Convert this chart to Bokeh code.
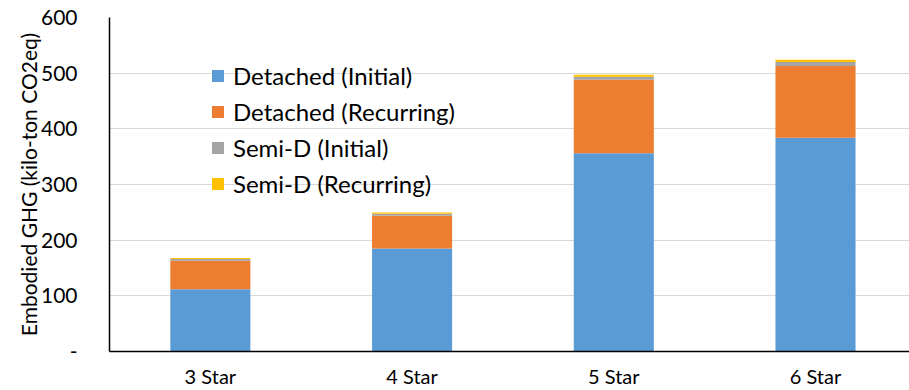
from bokeh.plotting import figure
from bokeh.models import Range1d, FixedTicker, ColumnDataSource, Legend, LegendItem
from bokeh.embed import file_html
from bokeh.resources import INLINE

# Embodied GHG by star rating (kilo-ton CO2eq)
categories = ["3 Star", "4 Star", "5 Star", "6 Star"]
detached_initial = [112, 185, 356, 384]
detached_recurring = [51, 59, 132, 129]
semid_initial = [3, 3.6, 5.4, 7]
semid_recurring = [2, 2.3, 3.6, 4.3]

series_names = ["Detached (Initial)", "Detached (Recurring)", "Semi-D (Initial)", "Semi-D (Recurring)"]
series_keys = ["det_init", "det_rec", "semi_init", "semi_rec"]
colors = ["#5B9BD5", "#ED7D31", "#A5A5A5", "#FFC000"]
y_ticks = [0, 100, 200, 300, 400, 500, 600]

FONT = "Lato"

source = ColumnDataSource(dict(
    x=[i + 0.5 for i in range(len(categories))],
    det_init=detached_initial,
    det_rec=detached_recurring,
    semi_init=semid_initial,
    semi_rec=semid_recurring,
))

p = figure(
    width=909, height=390,
    x_range=Range1d(0, 3.966), y_range=Range1d(0, 600),
    output_backend="svg", toolbar_location=None,
    min_border_left=109, min_border_right=0,
    min_border_top=17, min_border_bottom=39,
)
p.outline_line_color = None
p.background_fill_color = "white"
p.border_fill_color = "white"

renderers = p.vbar_stack(series_keys, x="x", width=0.397, color=colors,
                         line_color=None, source=source)

# axes
p.xaxis.ticker = FixedTicker(ticks=[i + 0.5 for i in range(len(categories))])
p.xaxis.major_label_overrides = {i + 0.5: c for i, c in enumerate(categories)}
p.xaxis.major_label_text_font = FONT
p.xaxis.major_label_text_font_size = "20px"
p.xaxis.major_label_text_color = "#000000"
p.xaxis.major_label_standoff = 6
p.xaxis.axis_line_color = "#000000"
p.xaxis.axis_line_width = 1.5
p.xaxis.major_tick_line_color = None
p.xaxis.minor_tick_line_color = None

p.yaxis.ticker = FixedTicker(ticks=y_ticks)
p.yaxis.major_label_overrides = {0: "-"}
p.yaxis.major_label_text_font = FONT
p.yaxis.major_label_text_font_size = "21px"
p.yaxis.major_label_text_color = "#000000"
p.yaxis.major_label_standoff = 26
p.yaxis.axis_line_color = "#000000"
p.yaxis.axis_line_width = 1.5
p.yaxis.major_tick_line_color = None
p.yaxis.minor_tick_line_color = None
p.yaxis.axis_label = "Embodied GHG (kilo-ton CO2eq)"
p.yaxis.axis_label_text_font = FONT
p.yaxis.axis_label_text_font_size = "21px"
p.yaxis.axis_label_text_font_style = "normal"
p.yaxis.axis_label_text_color = "#000000"
p.yaxis.axis_label_standoff = -3

p.xgrid.grid_line_color = None
p.ygrid.grid_line_color = "#D9D9D9"
p.ygrid.grid_line_width = 1.2

legend = Legend(
    items=[LegendItem(label=n, renderers=[r]) for n, r in zip(series_names, renderers)],
    location=(101, 153),
    orientation="vertical",
    label_text_font=FONT,
    label_text_font_size="24px",
    label_text_color="#000000",
    glyph_width=15, glyph_height=15,
    label_standoff=8,
    spacing=7,
    padding=0, margin=0,
    background_fill_alpha=0,
    border_line_alpha=0,
)
p.add_layout(legend, "center")

open("out.html", "w").write(file_html(p, INLINE))
